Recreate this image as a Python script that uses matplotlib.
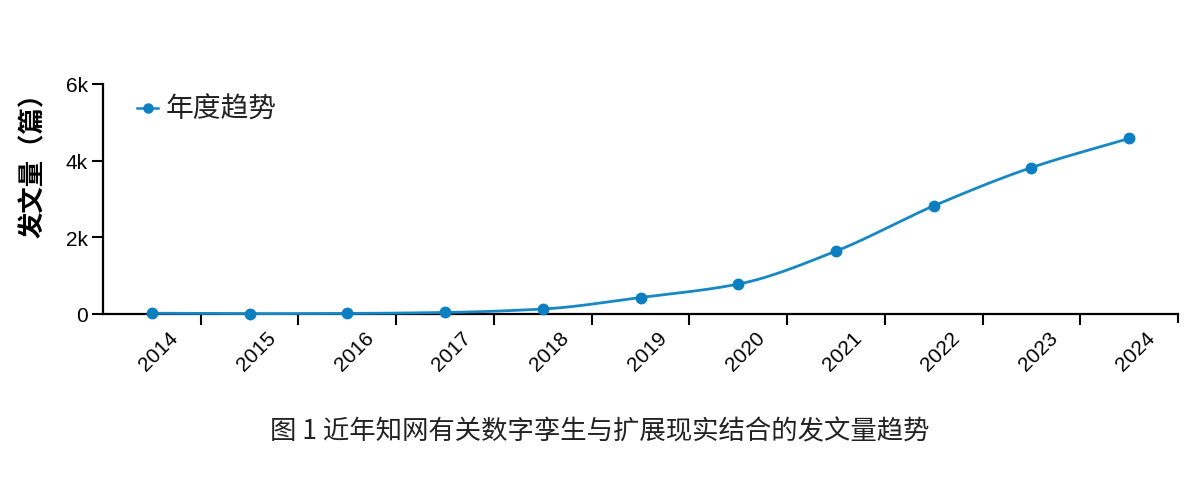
import numpy as np
from matplotlib import pyplot as plt

plt.rcParams["font.family"] = ["Liberation Sans Narrow", "Liberation Sans", "Noto Sans CJK SC", "DejaVu Sans"]
plt.rcParams["axes.unicode_minus"] = False

years = ["2014", "2015", "2016", "2017", "2018", "2019",
         "2020", "2021", "2022", "2023", "2024"]
counts = [20, 10, 15, 40, 130, 430, 780, 1640, 2820, 3820, 4580]
y_ticks = [0, 2000, 4000, 6000]
y_tick_labels = ["0", "2k", "4k", "6k"]

line_color = "#1788c3"
dot_color = "#0b7fc1"
cjk = ["Noto Sans CJK SC", "DejaVu Sans"]


def pchip_curve(x, y, n=40):
    # 单调三次插值, 只用于画平滑的线
    x = np.asarray(x, float)
    y = np.asarray(y, float)
    h = np.diff(x)
    d = np.diff(y) / h
    m = np.zeros_like(y)
    for i in range(1, len(y) - 1):
        if d[i - 1] * d[i] > 0:
            w1 = 2 * h[i] + h[i - 1]
            w2 = h[i] + 2 * h[i - 1]
            m[i] = (w1 + w2) / (w1 / d[i - 1] + w2 / d[i])
    m[0] = d[0]
    m[-1] = d[-1]
    xs, ys = [], []
    for i in range(len(x) - 1):
        t = np.linspace(0, 1, n)
        h00 = 2 * t**3 - 3 * t**2 + 1
        h10 = t**3 - 2 * t**2 + t
        h01 = -2 * t**3 + 3 * t**2
        h11 = t**3 - t**2
        xs.append(x[i] + t * h[i])
        ys.append(h00 * y[i] + h10 * h[i] * m[i] + h01 * y[i + 1] + h11 * h[i] * m[i + 1])
    return np.concatenate(xs), np.concatenate(ys)


fig = plt.figure(figsize=(12, 4.89), dpi=100)
ax = fig.add_axes([103 / 1200, 1 - 315 / 489, 1075 / 1200, 230 / 489])

pos = np.arange(len(years))
cx, cy = pchip_curve(pos, counts)
ax.plot(cx, cy, color=line_color, lw=2, zorder=3, clip_on=False)
ax.plot(pos, counts, "o", color=dot_color, ms=7.5, zorder=4, clip_on=False)

ax.set_xlim(-0.5, len(years) - 0.5)
ax.set_ylim(0, 6000)

ax.set_xticks(pos[:-1] + 0.5)
ax.set_xticks(pos + 0.07, minor=True)
ax.set_xticklabels([])
ax.set_xticklabels(years, minor=True, rotation=45, ha="center", fontsize=15)
ax.tick_params(axis="x", which="major", direction="out", length=8, width=1.5)
ax.tick_params(axis="x", which="minor", length=0, pad=10)
# 最右边的刻度
ax.plot([len(years) - 0.5] * 2, [0, -0.036], transform=ax.get_xaxis_transform(),
        color="black", lw=1.5, clip_on=False)

ax.set_yticks(y_ticks)
ax.set_yticklabels(y_tick_labels, fontsize=15)
ax.tick_params(axis="y", direction="out", length=8, width=1.5, pad=3)

for side in ["top", "right"]:
    ax.spines[side].set_visible(False)
for side in ["left", "bottom"]:
    ax.spines[side].set_linewidth(1.6)

ax.set_ylabel("发文量（篇）", fontsize=19, fontweight="bold", family=cjk)
ax.yaxis.set_label_coords(-0.052, 0.68)

# 图例
ax.plot([0.032, 0.051], [0.895, 0.895], transform=ax.transAxes, color=line_color, lw=1.8)
ax.plot([0.0415], [0.895], "o", transform=ax.transAxes, color=dot_color, ms=6.5)
ax.text(0.058, 0.895, "年度趋势", transform=ax.transAxes, fontsize=20, va="center",
        family=cjk, color="#222222")

fig.text(600 / 1200, 1 - 432 / 489, "图 1 近年知网有关数字孪生与扩展现实结合的发文量趋势",
         ha="center", va="center", fontsize=19, color="#222222",
         family=cjk, fontweight="light")

fig.savefig("out.png", dpi=100)
